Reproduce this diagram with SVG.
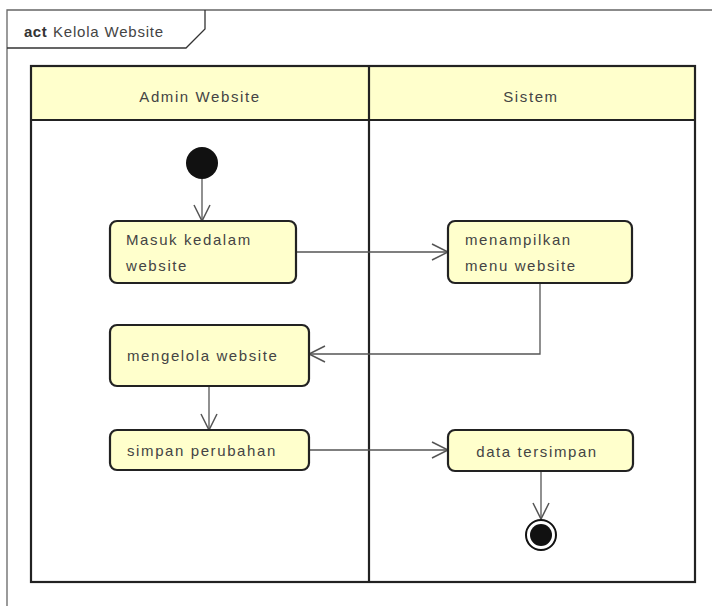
<svg xmlns="http://www.w3.org/2000/svg" width="712" height="606" viewBox="0 0 712 606">
<style>
text{font-family:"Liberation Sans",Arial,sans-serif;font-size:15px;letter-spacing:1.6px;fill:#444}
.node{fill:#FFFFCC;stroke:#222;stroke-width:2.2}
.edge{fill:none;stroke:#555;stroke-width:1.3}
.lane{fill:none;stroke:#222;stroke-width:2.2}
</style>
<defs>
<marker id="arr" viewBox="0 0 20 20" refX="18" refY="10" markerWidth="20" markerHeight="20" markerUnits="userSpaceOnUse" orient="auto">
<path d="M2,2 L18,10 L2,18" fill="none" stroke="#555" stroke-width="1.5"/>
</marker>
</defs>
<rect width="712" height="606" fill="#fff"/>
<g id="frame">
<path d="M7,606 V10 H712" fill="none" stroke="#666" stroke-width="1.3"/>
<path d="M7,48 H186 L205,29 V10" fill="none" stroke="#333" stroke-width="1.3"/>
<text x="24" y="37" style="font-weight:bold;letter-spacing:0.5px;fill:#333">act</text><text x="53" y="37" style="letter-spacing:0.8px">Kelola Website</text>
</g>
<g id="lanes">
<rect x="31" y="66" width="664" height="54" fill="#FFFFCC"/>
<rect x="31" y="66" width="664" height="516" class="lane"/>
<line x1="31" y1="120" x2="695" y2="120" class="lane"/>
<line x1="369" y1="66" x2="369" y2="582" class="lane"/>
<text x="200" y="102" text-anchor="middle">Admin Website</text>
<text x="531" y="102" text-anchor="middle">Sistem</text>
</g>
<g id="edges">
<line x1="202" y1="179" x2="202" y2="221" class="edge" marker-end="url(#arr)"/>
<line x1="296" y1="252" x2="448" y2="252" class="edge" marker-end="url(#arr)"/>
<polyline points="540,283 540,354 309,354" class="edge" marker-end="url(#arr)"/>
<line x1="209" y1="386" x2="209" y2="430" class="edge" marker-end="url(#arr)"/>
<line x1="309" y1="450" x2="448" y2="450" class="edge" marker-end="url(#arr)"/>
<line x1="541" y1="471" x2="541" y2="519" class="edge" marker-end="url(#arr)"/>
</g>
<g id="start"><circle cx="202" cy="163" r="16" fill="#111"/></g>
<g id="masuk">
<rect x="110" y="221" width="186" height="62" rx="7" class="node"/>
<text x="126" y="245">Masuk kedalam</text>
<text x="126" y="271">website</text>
</g>
<g id="menampilkan">
<rect x="448" y="221" width="184" height="62" rx="7" class="node"/>
<text x="465" y="245">menampilkan</text>
<text x="465" y="271">menu website</text>
</g>
<g id="mengelola">
<rect x="110" y="325" width="199" height="61" rx="7" class="node"/>
<text x="127" y="361">mengelola website</text>
</g>
<g id="simpan">
<rect x="110" y="430" width="199" height="40" rx="7" class="node"/>
<text x="127" y="456">simpan perubahan</text>
</g>
<g id="data">
<rect x="448" y="430" width="185" height="41" rx="7" class="node"/>
<text x="537" y="457" text-anchor="middle">data tersimpan</text>
</g>
<g id="end">
<circle cx="541" cy="535" r="15" fill="#fff" stroke="#111" stroke-width="2"/>
<circle cx="541" cy="535" r="11" fill="#111"/>
</g>
</svg>
